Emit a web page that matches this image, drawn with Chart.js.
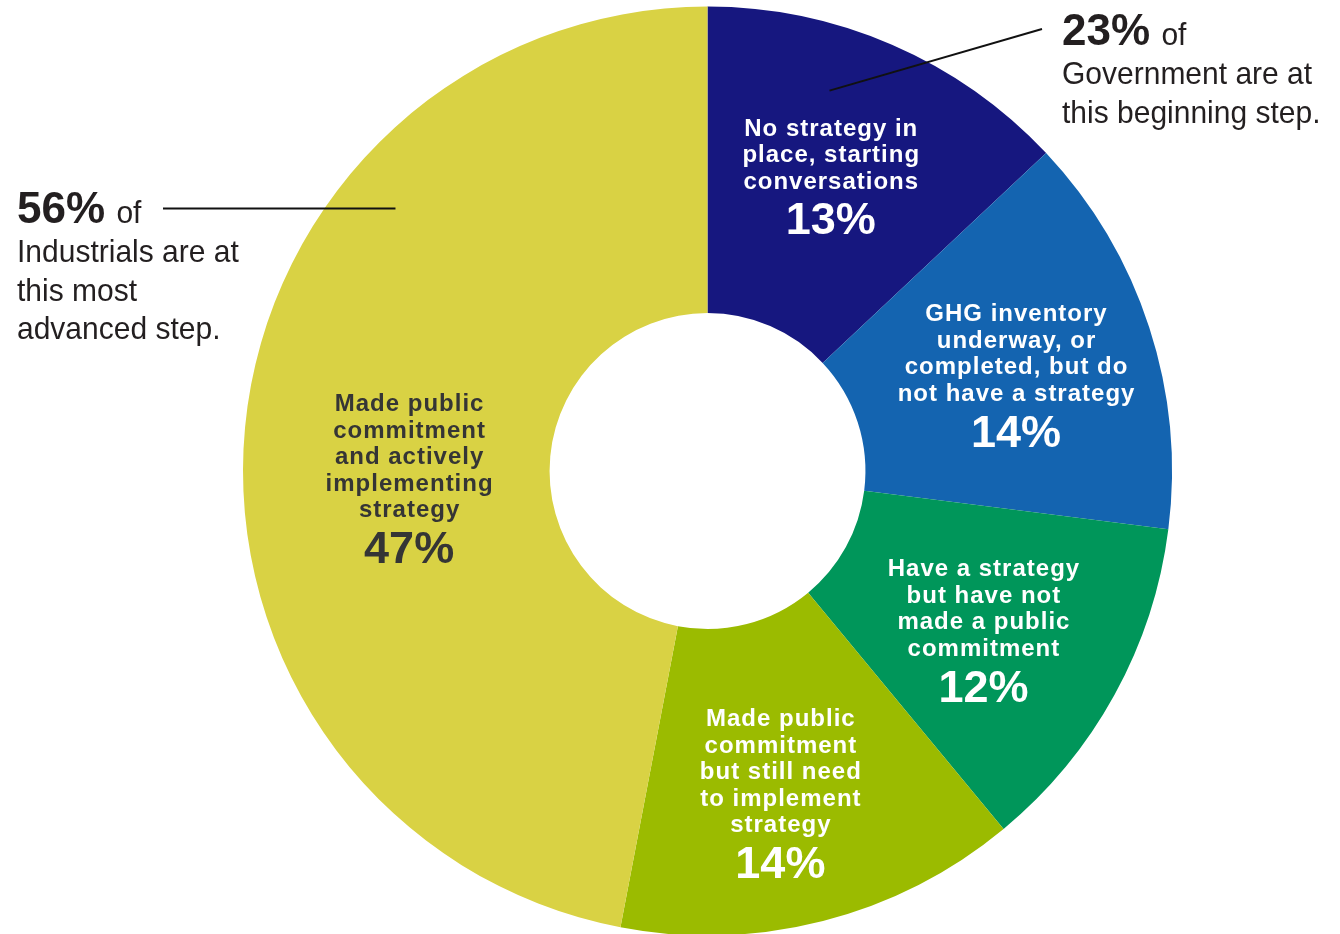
<!DOCTYPE html>
<html>
<head>
<meta charset="utf-8">
<script src="https://cdn.jsdelivr.net/npm/chart.js@4/dist/chart.umd.min.js"></script>
<style>
  html, body { margin: 0; padding: 0; background: #fff; overflow: hidden; }
  #wrap { position: relative; width: 1340px; height: 940px; }
</style>
</head>
<body>
<div id="wrap"><canvas id="stepsChart"></canvas></div>
<script>
// share of respondents at each step of the decarbonisation journey
const stepShares = [13, 14, 12, 14, 47];
const stepLabels = [
  ["No strategy in", "place, starting", "conversations"],
  ["GHG inventory", "underway, or", "completed, but do", "not have a strategy"],
  ["Have a strategy", "but have not", "made a public", "commitment"],
  ["Made public", "commitment", "but still need", "to implement", "strategy"],
  ["Made public", "commitment", "and actively", "implementing", "strategy"],
];
const stepColors = ["#16177f", "#1464b0", "#00965a", "#9bbb00", "#d9d244"];
const stepTextColors = ["#ffffff", "#ffffff", "#ffffff", "#ffffff", "#353535"];

// sector callouts
const calloutShares = ["23%", "56%"];
const calloutLines = [
  ["Government are at", "this beginning step."],
  ["Industrials are at", "this most", "advanced step."],
];

const FONT = "'Liberation Sans', Arial, sans-serif";

// label placement nudges (degrees / px) for slices whose text is not centred
const labelNudge = [
  { a: -1, r: 3 }, { a: 0, r: 4 }, { a: 0.5, r: -4 }, { a: 1.5, r: 6 }, { a: -6, r: -22 },
];

function pointOnArc(arc, t, rFrac) {
  const p = arc.getProps(["x", "y", "startAngle", "endAngle", "outerRadius"], true);
  const ang = p.startAngle + (p.endAngle - p.startAngle) * t;
  const r = p.outerRadius * rFrac;
  return { x: p.x + Math.cos(ang) * r, y: p.y + Math.sin(ang) * r };
}

const sliceLabels = {
  id: "sliceLabels",
  afterDatasetsDraw(chart) {
    const ctx = chart.ctx;
    const arcs = chart.getDatasetMeta(0).data;
    ctx.save();
    ctx.textAlign = "center";
    ctx.textBaseline = "middle";
    arcs.forEach((arc, i) => {
      const p = arc.getProps(["x", "y", "startAngle", "endAngle", "innerRadius", "outerRadius"], true);
      const mid = (p.startAngle + p.endAngle) / 2 + labelNudge[i].a * Math.PI / 180;
      const r = p.innerRadius + 0.53 * (p.outerRadius - p.innerRadius) + labelNudge[i].r;
      const cx = p.x + Math.cos(mid) * r;
      const cy = p.y + Math.sin(mid) * r + 3;
      const lines = stepLabels[i];
      const lh = 26.6;
      const span = (lines.length - 1) * lh + 39;
      let y = cy - span / 2;
      ctx.fillStyle = stepTextColors[i];
      ctx.font = "bold 24px " + FONT;
      ctx.letterSpacing = "1px";
      lines.forEach((ln) => {
        ctx.fillText(ln, cx + 0.5, y);
        y += lh;
      });
      ctx.letterSpacing = "0px";
      ctx.font = "bold 45px " + FONT;
      ctx.fillText(stepShares[i] + "%", cx, y - lh + 39 + 1);
    });
    ctx.restore();
  },
};

const callouts = {
  id: "callouts",
  afterDraw(chart) {
    const ctx = chart.ctx;
    const arcs = chart.getDatasetMeta(0).data;
    ctx.save();
    ctx.strokeStyle = "#111";
    ctx.lineWidth = 2;

    // Government -> first slice
    const a = pointOnArc(arcs[0], 0.38, 0.86);
    ctx.beginPath();
    ctx.moveTo(a.x, a.y);
    ctx.lineTo(1042, 29);
    ctx.stroke();

    // Industrials -> last slice
    const b = pointOnArc(arcs[4], 0.705, 0.878);
    ctx.beginPath();
    ctx.moveTo(163, b.y);
    ctx.lineTo(b.x, b.y);
    ctx.stroke();

    ctx.fillStyle = "#231f20";
    ctx.textAlign = "left";
    ctx.textBaseline = "alphabetic";

    const blocks = [
      { x: 1062, y: 45, gap: 38.5 },
      { x: 17, y: 223, gap: 38.5 },
    ];
    // the body copy is set in a slightly tall face: stretch it a little
    const stretch = 1.07;
    blocks.forEach((bk, i) => {
      ctx.font = "bold 44px " + FONT;
      ctx.fillText(calloutShares[i], bk.x, bk.y);
      const w = ctx.measureText(calloutShares[i]).width;
      ctx.font = "30px " + FONT;
      const rows = [[" of", bk.x + w + 3, bk.y]].concat(
        calloutLines[i].map((ln, j) => [ln, bk.x, bk.y + 39 + j * bk.gap])
      );
      rows.forEach(([txt, x, y]) => {
        ctx.save();
        ctx.translate(x, y);
        ctx.scale(1, stretch);
        ctx.fillText(txt, 0, 0);
        ctx.restore();
      });
    });
    ctx.restore();
  },
};

new Chart(document.getElementById("stepsChart"), {
  type: "doughnut",
  data: {
    labels: stepLabels.map((l) => l.join(" ")),
    datasets: [
      {
        data: stepShares,
        backgroundColor: stepColors,
        borderWidth: 0,
      },
    ],
  },
  options: {
    responsive: true,
    maintainAspectRatio: false,
    animation: false,
    cutout: "34%",
    rotation: 0,
    layout: { padding: { top: 6, bottom: 4, left: 243, right: 168 } },
    plugins: {
      legend: { display: false },
      tooltip: { enabled: false },
    },
  },
  plugins: [sliceLabels, callouts],
});
</script>
</body>
</html>
